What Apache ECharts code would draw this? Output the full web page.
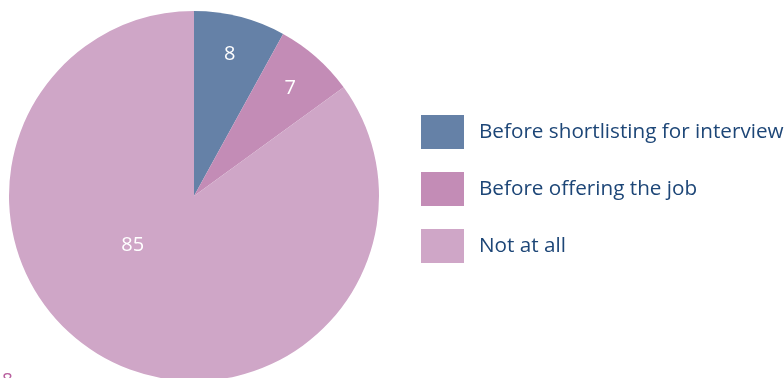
<!DOCTYPE html>
<html>
<head>
<meta charset="utf-8">
<style>
  html, body { margin: 0; padding: 0; background: #ffffff; }
  #chart { width: 784px; height: 378px; }
</style>
<script src="https://cdn.jsdelivr.net/npm/echarts@6/dist/echarts.min.js"></script>
</head>
<body>
<div id="chart"></div>
<script>
// Share of responses by stage at which checks are made
const categories = ['Before shortlisting for interview', 'Before offering the job', 'Not at all'];
const values = [8, 7, 85];
const colors = ['#6581a7', '#c38cb6', '#cfa6c7'];

// Per-slice nudges moving the value labels off the default inside spot
const labelShift = [[12, -49], [33, -36], [-18, -36]];

const chart = echarts.init(document.getElementById('chart'), null, { renderer: 'canvas' });

chart.setOption({
  animation: false,
  color: colors,
  legend: {
    orient: 'vertical',
    left: 421,
    top: 115,
    padding: 0,
    itemWidth: 43,
    itemHeight: 34,
    itemGap: 23,
    icon: 'rect',
    selectedMode: false,
    data: categories,
    textStyle: {
      fontFamily: 'Open Sans',
      fontSize: 20.7,
      color: '#1d4677',
      padding: [2, 0, 0, 10]
    }
  },
  series: [{
    type: 'pie',
    center: [194, 196],
    radius: [0, 185],
    startAngle: 90,
    clockwise: true,
    avoidLabelOverlap: false,
    silent: true,
    label: {
      show: true,
      position: 'inside',
      formatter: '{c}',
      fontFamily: 'Open Sans',
      fontSize: 20,
      color: '#ffffff'
    },
    labelLine: { show: false },
    labelLayout: function (params) {
      const s = labelShift[params.dataIndex];
      return { dx: s[0], dy: s[1] };
    },
    data: categories.map((name, i) => ({ name: name, value: values[i] }))
  }],
  graphic: [{
    type: 'text',
    left: 2,
    top: 371,
    style: {
      text: '8',
      fontFamily: 'Open Sans',
      fontSize: 19,
      fill: '#b9619f'
    }
  }]
});
</script>
</body>
</html>
